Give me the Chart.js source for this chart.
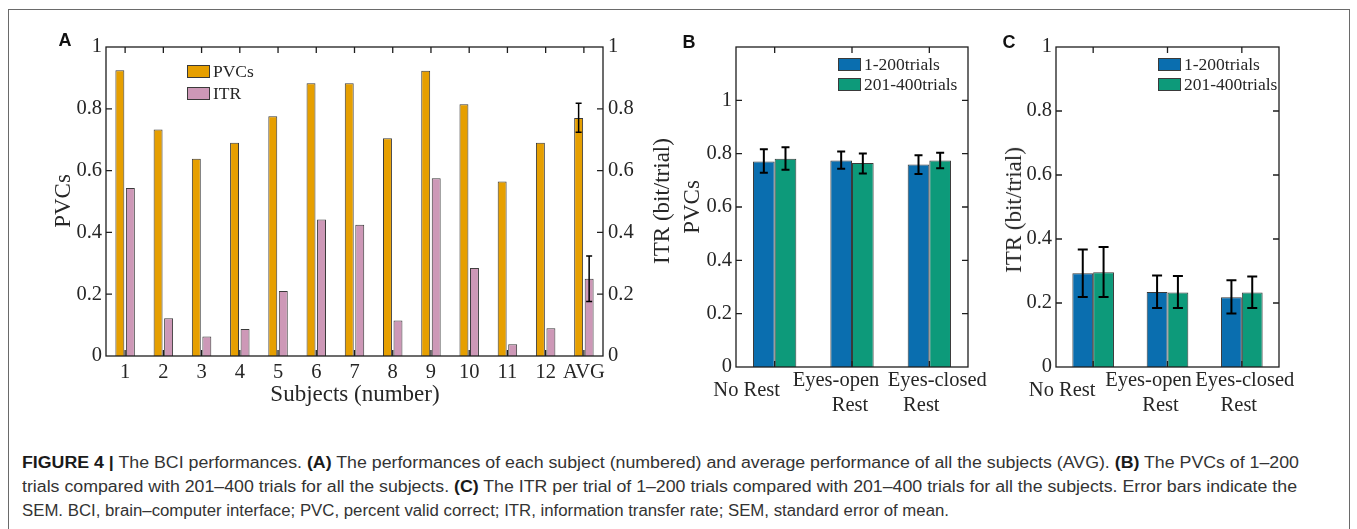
<!DOCTYPE html>
<html>
<head>
<meta charset="utf-8">
<script src="https://cdn.jsdelivr.net/npm/chart.js@4.4.1/dist/chart.umd.min.js"></script>
<style>
  html,body{margin:0;padding:0;background:#fff;}
  body{width:1357px;height:529px;position:relative;overflow:hidden;font-family:'Liberation Serif',serif;color:#262626;}
  #frame{position:absolute;left:8px;top:9px;width:1340px;height:560px;border:1px solid #6a6a6a;}
  canvas{position:absolute;}
  .plab{position:absolute;font-family:'Liberation Sans',Arial,sans-serif;font-weight:bold;font-size:18px;color:#111;transform:translate(-50%,-50%);}
  .atitle{position:absolute;font-family:'Liberation Serif',serif;font-size:23px;color:#262626;white-space:nowrap;transform:translate(-50%,-50%);}
  .rot{transform:translate(-50%,-50%) rotate(-90deg);}
  .leg{position:absolute;font-family:'Liberation Serif',serif;font-size:17.5px;color:#262626;}
  .leg .item{position:absolute;white-space:nowrap;height:14px;}
  .leg .box{position:absolute;left:0;top:0;width:23px;height:13px;border:1px solid #3a3a3a;box-sizing:border-box;}
  .leg .txt{position:absolute;left:26px;top:50%;transform:translateY(-50%);line-height:1;}
  .cap{position:absolute;left:22px;white-space:nowrap;font-family:'Liberation Sans Narrow','Liberation Sans',Arial,sans-serif;font-size:16px;line-height:24px;color:#333;transform-origin:0 50%;}
  .cap b{color:#1a1a1a;}
</style>
</head>
<body>
<div id="frame"></div>

<canvas id="cA" width="680" height="400" style="left:20px;top:20px"></canvas>
<canvas id="cB" width="330" height="400" style="left:660px;top:20px"></canvas>
<canvas id="cC" width="330" height="400" style="left:990px;top:20px"></canvas>

<div class="plab" style="left:65px;top:40px">A</div>
<div class="plab" style="left:689px;top:42px">B</div>
<div class="plab" style="left:1009px;top:42px">C</div>

<div class="atitle rot" style="left:63px;top:201px">PVCs</div>
<div class="atitle rot" style="left:662px;top:201px">ITR (bit/trial)</div>
<div class="atitle" style="left:355px;top:394px">Subjects (number)</div>
<div class="atitle rot" style="left:692px;top:207px">PVCs</div>
<div class="atitle rot" style="left:1014px;top:210px">ITR (bit/trial)</div>

<div class="leg" id="legA" style="left:187px;top:65px"></div>
<div class="leg" id="legB" style="left:838px;top:58px"></div>
<div class="leg" id="legC" style="left:1158px;top:58px"></div>

<div class="cap" id="cap1" style="top:451px"><b>FIGURE 4 |</b> The BCI performances. <b>(A)</b> The performances of each subject (numbered) and average performance of all the subjects (AVG). <b>(B)</b> The PVCs of 1–200</div>
<div class="cap" id="cap2" style="top:475px">trials compared with 201–400 trials for all the subjects. <b>(C)</b> The ITR per trial of 1–200 trials compared with 201–400 trials for all the subjects. Error bars indicate the</div>
<div class="cap" id="cap3" style="top:499px">SEM. BCI, brain–computer interface; PVC, percent valid correct; ITR, information transfer rate; SEM, standard error of mean.</div>

<script>
// ---------------- DATA ----------------
const subjects = ['1','2','3','4','5','6','7','8','9','10','11','12','AVG'];
const pvcValues = [0.925,0.733,0.638,0.690,0.776,0.883,0.883,0.705,0.923,0.815,0.565,0.690,0.770];
const itrValues = [0.544,0.122,0.063,0.087,0.210,0.442,0.425,0.115,0.575,0.285,0.038,0.090,0.250];
const pvcErrLow  = [null,null,null,null,null,null,null,null,null,null,null,null,0.724];
const pvcErrHigh = [null,null,null,null,null,null,null,null,null,null,null,null,0.818];
const itrErrLow  = [null,null,null,null,null,null,null,null,null,null,null,null,0.176];
const itrErrHigh = [null,null,null,null,null,null,null,null,null,null,null,null,0.324];

const restConditions = [['No Rest'], ['Eyes-open','Rest'], ['Eyes-closed','Rest']];
const seriesNames = ['1-200trials','201-400trials'];

const pvc1to200      = [0.771,0.774,0.759];
const pvc1to200Low   = [0.728,0.743,0.724];
const pvc1to200High  = [0.817,0.808,0.794];
const pvc201to400     = [0.781,0.765,0.774];
const pvc201to400Low  = [0.740,0.726,0.745];
const pvc201to400High = [0.824,0.801,0.803];

const itr1to200      = [0.293,0.234,0.218];
const itr1to200Low   = [0.219,0.184,0.167];
const itr1to200High  = [0.367,0.286,0.271];
const itr201to400     = [0.296,0.233,0.233];
const itr201to400Low  = [0.219,0.184,0.184];
const itr201to400High = [0.375,0.284,0.283];

// ---------------- STYLE ----------------
const ORANGE = '#E69F00', PINK = '#CD98B7', BLUE = '#0A6EAF', GREEN = '#0D9A7A';
const EDGE = '#3a3a3a';
const TXT = '#262626';
const tickFont = {family:'Liberation Serif', size:20.5};
const fmt = v => String(Math.round(v*10)/10);

const framePlugin = {
  id:'frame',
  afterDatasetsDraw(chart, args, opts){
    const {ctx, chartArea:a} = chart;
    const xs = chart.scales.x, ys = chart.scales.y;
    const L = opts.tickLen || 6;
    ctx.save();
    ctx.strokeStyle = '#1e1e1e';
    ctx.lineWidth = 1.3;
    ctx.beginPath();
    ys.ticks.forEach(t=>{
      const y = ys.getPixelForValue(t.value);
      if (y <= a.top+1 || y >= a.bottom-1) return;
      ctx.moveTo(a.left,y); ctx.lineTo(a.left+L,y);
      ctx.moveTo(a.right,y); ctx.lineTo(a.right-L,y);
    });
    xs.ticks.forEach((t,i)=>{
      const x = xs.getPixelForTick(i);
      ctx.moveTo(x,a.bottom); ctx.lineTo(x,a.bottom-L);
      ctx.moveTo(x,a.top); ctx.lineTo(x,a.top+L);
    });
    ctx.stroke();
    ctx.strokeRect(a.left, a.top, a.right-a.left, a.bottom-a.top);
    ctx.restore();
  }
};

const errorBarPlugin = {
  id:'errorBars',
  afterDatasetsDraw(chart, args, opts){
    const ctx = chart.ctx;
    ctx.save();
    ctx.strokeStyle = '#000';
    ctx.lineWidth = opts.width || 1.5;
    const w = opts.cap || 3;
    chart.data.datasets.forEach((ds,i)=>{
      if (!ds.errLow) return;
      const meta = chart.getDatasetMeta(i);
      const sc = chart.scales[meta.yAxisID];
      meta.data.forEach((el,j)=>{
        const lo = ds.errLow[j], hi = ds.errHigh[j];
        if (lo == null || hi == null) return;
        const y1 = sc.getPixelForValue(lo), y2 = sc.getPixelForValue(hi), x = el.x;
        ctx.beginPath();
        ctx.moveTo(x,y1); ctx.lineTo(x,y2);
        ctx.moveTo(x-w,y1); ctx.lineTo(x+w,y1);
        ctx.moveTo(x-w,y2); ctx.lineTo(x+w,y2);
        ctx.stroke();
      });
    });
    ctx.restore();
  }
};

const catLabelPlugin = {
  id:'catLabels',
  afterDraw(chart, args, opts){
    if (!opts.dx) return;
    const xs = chart.scales.x, a = chart.chartArea, ctx = chart.ctx;
    ctx.save();
    ctx.font = opts.font;
    ctx.fillStyle = TXT;
    ctx.textAlign = 'center';
    ctx.textBaseline = 'middle';
    chart.data.labels.forEach((lab,i)=>{
      const lines = Array.isArray(lab) ? lab : [lab];
      const x = xs.getPixelForTick(i);
      if (lines.length === 1) ctx.fillText(lines[0], x + opts.dx[i][0], a.bottom + opts.singleY);
      else lines.forEach((t,k)=>ctx.fillText(t, x + opts.dx[i][k], a.bottom + opts.lineY[k]));
    });
    ctx.restore();
  }
};

function fixW(w){ return s => { s.width = w; s.paddingTop = 0; s.paddingBottom = 0; }; }
function fixH(h){ return s => { s.height = h; s.paddingLeft = 0; s.paddingRight = 0; }; }

function yAxis(pos, max, width, pad, hideTop){
  return {
    position: pos, min: 0, max: max,
    grid: {display:false, drawTicks:false},
    border: {display:false},
    ticks: {stepSize:0.2, font:tickFont, color:TXT, padding:pad,
            callback: v => (hideTop && Math.abs(v-max) < 1e-6) ? '' : fmt(v)},
    afterFit: fixW(width)
  };
}

// ---------------- PANEL A ----------------
new Chart(document.getElementById('cA'), {
  type:'bar',
  data:{
    labels: subjects,
    datasets:[
      {label:'PVCs', data:pvcValues, yAxisID:'y', backgroundColor:ORANGE, borderColor:EDGE, borderWidth:1,
       categoryPercentage:0.55, barPercentage:0.85, errLow:pvcErrLow, errHigh:pvcErrHigh},
      {label:'ITR', data:itrValues, yAxisID:'y2', backgroundColor:PINK, borderColor:EDGE, borderWidth:1,
       categoryPercentage:0.55, barPercentage:0.85, errLow:itrErrLow, errHigh:itrErrHigh}
    ]
  },
  options:{
    responsive:false, animation:false, devicePixelRatio:1,
    layout:{padding:{top:27,left:0,right:0,bottom:0}},
    plugins:{legend:{display:false}, tooltip:{enabled:false},
             frame:{tickLen:6}, errorBars:{cap:3, width:1.5}},
    scales:{
      x:{grid:{display:false, drawTicks:false}, border:{display:false},
         ticks:{font:tickFont, color:TXT, padding:4, maxRotation:0, autoSkip:false},
         afterFit: fixH(64)},
      y: yAxis('left', 1, 86, 4, false),
      y2: yAxis('right', 1, 97, 5, false)
    }
  },
  plugins:[framePlugin, errorBarPlugin]
});

// ---------------- PANEL B ----------------
new Chart(document.getElementById('cB'), {
  type:'bar',
  data:{
    labels: restConditions,
    datasets:[
      {label:seriesNames[0], data:pvc1to200, backgroundColor:BLUE, borderColor:EDGE, borderWidth:1,
       categoryPercentage:0.56, barPercentage:1.0, errLow:pvc1to200Low, errHigh:pvc1to200High},
      {label:seriesNames[1], data:pvc201to400, backgroundColor:GREEN, borderColor:EDGE, borderWidth:1,
       categoryPercentage:0.56, barPercentage:1.0, errLow:pvc201to400Low, errHigh:pvc201to400High}
    ]
  },
  options:{
    responsive:false, animation:false, devicePixelRatio:1,
    layout:{padding:{top:27,left:0,right:22,bottom:0}},
    plugins:{legend:{display:false}, tooltip:{enabled:false},
             frame:{tickLen:6}, errorBars:{cap:4, width:2},
             catLabels:{font:'20.5px "Liberation Serif"', dx:[[-28],[-16,-2],[8,-8]], singleY:24, lineY:[14,39]}},
    scales:{
      x:{grid:{display:false, drawTicks:false}, border:{display:false},
         ticks:{display:false}, afterFit: fixH(53)},
      y: yAxis('left', 1.2, 76, 4, true)
    }
  },
  plugins:[framePlugin, errorBarPlugin, catLabelPlugin]
});

// ---------------- PANEL C ----------------
new Chart(document.getElementById('cC'), {
  type:'bar',
  data:{
    labels: restConditions,
    datasets:[
      {label:seriesNames[0], data:itr1to200, backgroundColor:BLUE, borderColor:EDGE, borderWidth:1,
       categoryPercentage:0.56, barPercentage:1.0, errLow:itr1to200Low, errHigh:itr1to200High},
      {label:seriesNames[1], data:itr201to400, backgroundColor:GREEN, borderColor:EDGE, borderWidth:1,
       categoryPercentage:0.56, barPercentage:1.0, errLow:itr201to400Low, errHigh:itr201to400High}
    ]
  },
  options:{
    responsive:false, animation:false, devicePixelRatio:1,
    layout:{padding:{top:27,left:0,right:41,bottom:0}},
    plugins:{legend:{display:false}, tooltip:{enabled:false},
             frame:{tickLen:6}, errorBars:{cap:5, width:2},
             catLabels:{font:'20.5px "Liberation Serif"', dx:[[-31],[-19,-7],[3,-3]], singleY:24, lineY:[14,39]}},
    scales:{
      x:{grid:{display:false, drawTicks:false}, border:{display:false},
         ticks:{display:false}, afterFit: fixH(53)},
      y: yAxis('left', 1, 66, 4, false)
    }
  },
  plugins:[framePlugin, errorBarPlugin, catLabelPlugin]
});

// ---------------- LEGENDS (HTML, from dataset names/colours) ----------------
function buildLegend(id, names, colors, step){
  const el = document.getElementById(id);
  names.forEach((n,i)=>{
    const it = document.createElement('div');
    it.className = 'item';
    it.style.top = (i*step) + 'px';
    it.innerHTML = '<div class="box" style="background:'+colors[i]+'"></div><span class="txt">'+n+'</span>';
    el.appendChild(it);
  });
}
buildLegend('legA', ['PVCs','ITR'], [ORANGE,PINK], 21.5);
buildLegend('legB', seriesNames, [BLUE,GREEN], 20);
buildLegend('legC', seriesNames, [BLUE,GREEN], 20);

// caption: fit each line to its width in the reference
[['cap1',1277],['cap2',1275],['cap3',927]].forEach(([id,w])=>{
  const el = document.getElementById(id);
  const nat = el.getBoundingClientRect().width;
  el.style.transform = 'scaleX(' + (w/nat) + ')';
});
</script>
</body>
</html>
